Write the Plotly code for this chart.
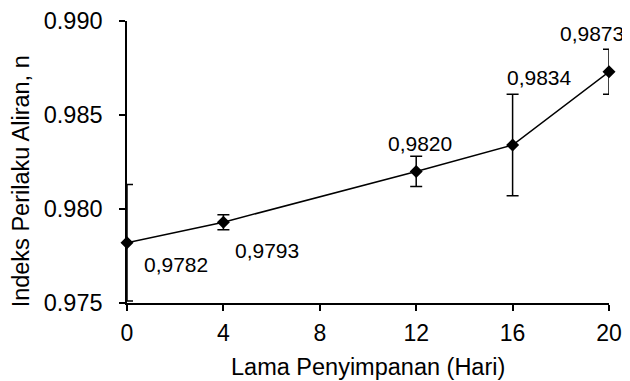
import plotly.graph_objects as go

days = [0, 4, 12, 16, 20]
n_values = [0.9782, 0.9793, 0.9820, 0.9834, 0.9873]
n_errors = [0.0031, 0.0004, 0.0008, 0.0027, 0.0012]
x_ticks = [0, 4, 8, 12, 16, 20]
y_ticks = [0.975, 0.980, 0.985, 0.990]
label_shifts = [(49, -22), (44, -28), (4, 28), (27, 68), (-17, 38)]
x_title = "Lama Penyimpanan (Hari)"
y_title = "Indeks Perilaku Aliran, n"

FONT = "Liberation Sans, Arial, sans-serif"

fig = go.Figure()
fig.add_trace(go.Scatter(
    x=days, y=n_values, mode="lines+markers",
    line=dict(color="black", width=1.5),
    marker=dict(symbol="diamond", size=10, color="black"),
    error_y=dict(type="data", array=n_errors, visible=True,
                 color="black", thickness=1.5, width=6),
    cliponaxis=False, showlegend=False,
))

for x, y, (dx, dy) in zip(days, n_values, label_shifts):
    fig.add_annotation(x=x, y=y, xref="x", yref="y",
                       text=f"{y:.4f}".replace(".", ","),
                       showarrow=False, xshift=dx, yshift=dy,
                       font=dict(family=FONT, size=21, color="black"))

# axis titles placed as paper annotations for precise positioning
fig.add_annotation(x=0.5, y=-0.227, xref="paper", yref="paper",
                   text=x_title, showarrow=False,
                   xanchor="center", yanchor="middle",
                   font=dict(family=FONT, size=23.5, color="black"))
fig.add_annotation(x=-0.221, y=0.433, xref="paper", yref="paper",
                   text=y_title, showarrow=False, textangle=-90,
                   xanchor="center", yanchor="middle", borderpad=0,
                   font=dict(family=FONT, size=23.5, color="black"))

# page body adds an 8px offset; figure is sized/margined to compensate
fig.update_layout(
    width=622, height=373,
    margin=dict(l=119, r=21, t=13, b=78),
    paper_bgcolor="white", plot_bgcolor="white",
    font=dict(family=FONT, size=23, color="black"),
)
fig.update_xaxes(
    range=[0, 20], tickvals=x_ticks, showgrid=False, zeroline=False,
    showline=True, linecolor="black", linewidth=1.5,
    ticks="outside", ticklen=6, tickwidth=1.5, tickcolor="black",
    tickfont=dict(size=23), ticklabelstandoff=3, automargin=False,
)
fig.update_yaxes(
    range=[0.975, 0.990], tickvals=y_ticks, tickformat=".3f",
    showgrid=False, zeroline=False,
    showline=True, linecolor="black", linewidth=1.5,
    ticks="outside", ticklen=6, tickwidth=1.5, tickcolor="black",
    tickfont=dict(size=23.5), ticklabelstandoff=12, automargin=False,
)

fig.write_html("out.html")
